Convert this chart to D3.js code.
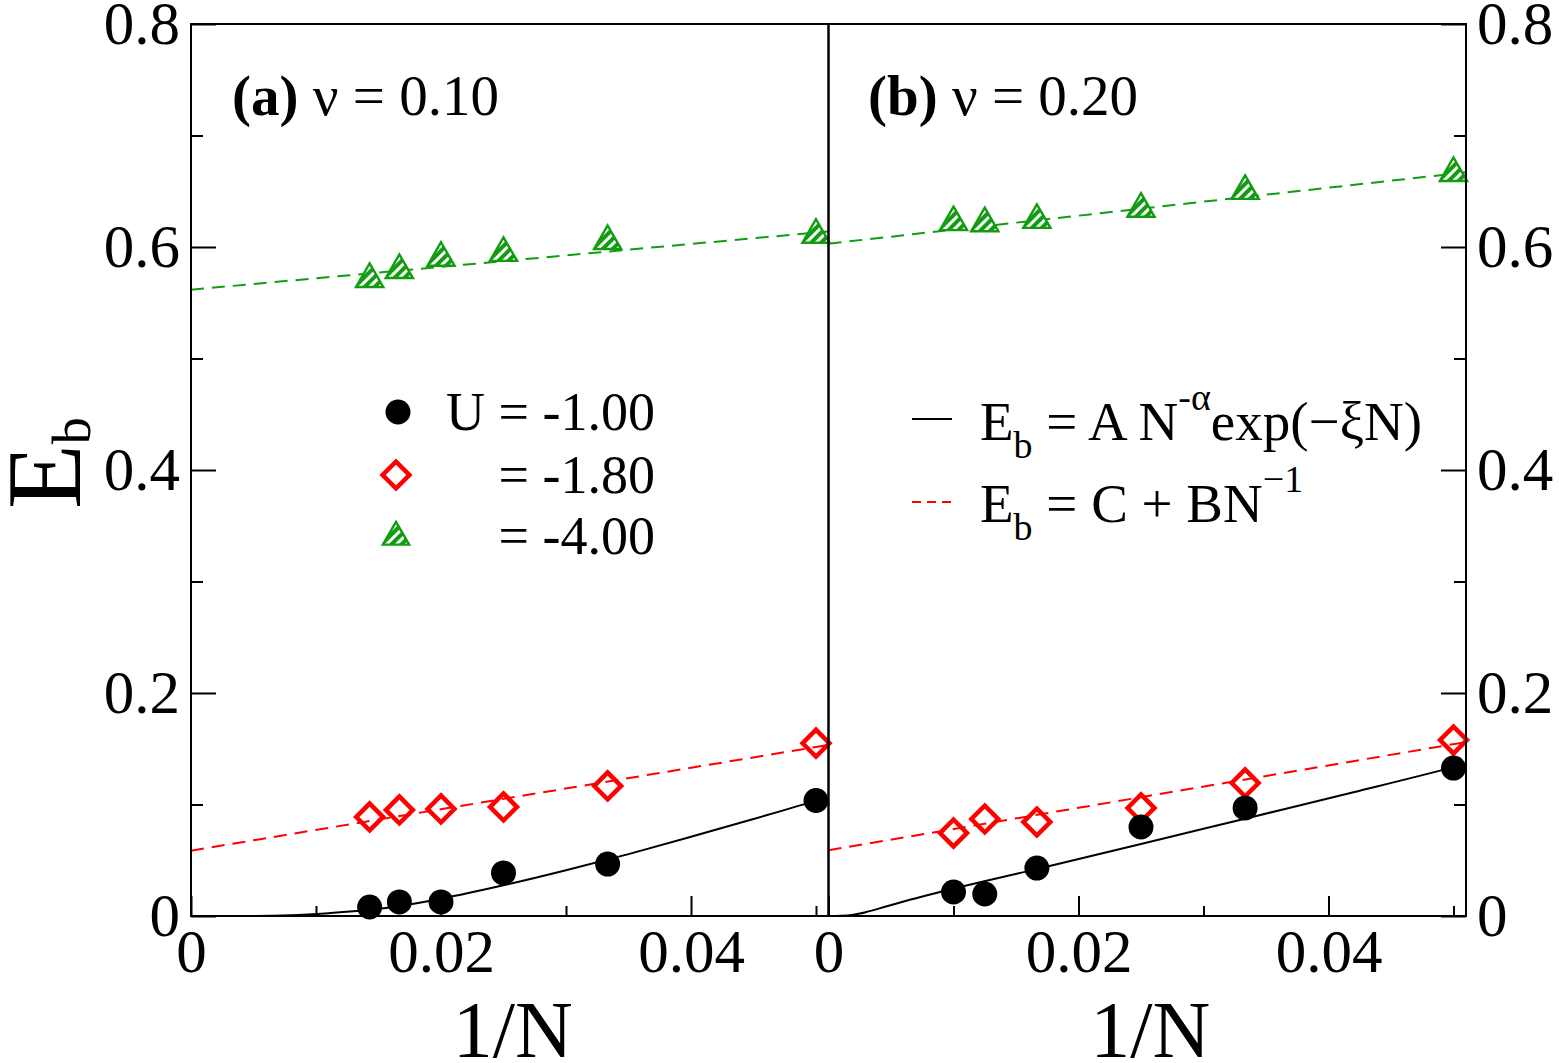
<!DOCTYPE html>
<html>
<head>
<meta charset="utf-8">
<script src="https://cdn.jsdelivr.net/npm/d3@7"></script>
<style>
  body { margin: 0; background: #fff; }
  svg { display: block; font-family: "Liberation Serif", "Times New Roman", serif; }
</style>
</head>
<body>
<svg width="1559" height="1063"></svg>
<script>
// ---- data ----
var xMajor = [0, 0.02, 0.04],
    xMinor = [0.01, 0.03, 0.05],
    yMajor = [0, 0.2, 0.4, 0.6, 0.8],
    yMinor = [0.1, 0.3, 0.5, 0.7];

// panel (a) nu = 0.10
var invNa = [0.01429, 0.01667, 0.02, 0.025, 0.03333, 0.05];
var u100a = [0.0081, 0.0126, 0.0126, 0.0386, 0.0466, 0.1036];
var u180a = [0.0888, 0.0951, 0.0960, 0.0978, 0.1166, 0.1550];
var u400a = [0.573, 0.581, 0.592, 0.5964, 0.607, 0.6126];
// fitted curves (a)
var fitExpA = [[0, 0], [0.005, 0], [0.008, 0.0006], [0.011, 0.0025], [0.0143, 0.0055],
               [0.017, 0.0095], [0.02, 0.0155], [0.025, 0.0275], [0.03, 0.041],
               [0.035, 0.0555], [0.04, 0.071], [0.045, 0.087], [0.05, 0.1035], [0.051, 0.107]];
var fitLinRedA = [[0, 0.0586], [0.051, 0.1534]];
var fitLinGreenA = [[0, 0.5617], [0.051, 0.614]];

// panel (b) nu = 0.20
var invNb = [0.01, 0.0125, 0.01667, 0.025, 0.03333, 0.05];
var u100b = [0.0215, 0.0197, 0.043, 0.0798, 0.0969, 0.1327];
var u180b = [0.0744, 0.087, 0.0843, 0.0969, 0.1193, 0.1578];
var u400b = [0.624, 0.623, 0.626, 0.636, 0.652, 0.668];
var fitExpB = [[0, 0], [0.001, 0.0002], [0.002, 0.0012], [0.003, 0.0035], [0.0046, 0.0085],
               [0.0065, 0.0145], [0.0089, 0.0215], [0.0168, 0.0425], [0.025, 0.0645],
               [0.0334, 0.0875], [0.042, 0.111], [0.05, 0.1335], [0.051, 0.1365]];
var fitLinRedB = [[0, 0.059], [0.051, 0.156]];
var fitLinGreenB = [[0, 0.603], [0.051, 0.667]];

var svg = d3.select("svg");
var top_ = 24, bottom = 916;

var y = d3.scaleLinear().domain([0, 0.8]).range([bottom, top_]);
var xa = d3.scaleLinear().domain([0, 0.051]).range([191, 828.5]);
var xb = d3.scaleLinear().domain([0, 0.051]).range([828.5, 1466]);

var green = "#119c11", red = "#ff0000";

// hatch pattern for the triangles
var defs = svg.append("defs");
var pat = defs.append("pattern")
    .attr("id", "hatch")
    .attr("patternUnits", "userSpaceOnUse")
    .attr("width", 7).attr("height", 7)
    .attr("patternTransform", "rotate(-45)");
pat.append("rect").attr("width", 7).attr("height", 7).attr("fill", "#fff");
pat.append("rect").attr("width", 7).attr("height", 4).attr("fill", green);

var fmtX = function(d) { return d === 0 ? "0" : d3.format(".2f")(d); };
var fmtY = function(d) { return d === 0 ? "0" : d3.format(".1f")(d); };

function styleAxis(g, size) {
    g.select(".domain").remove();
    g.selectAll("line").attr("stroke", "#000").attr("stroke-width", 2);
    g.selectAll("text")
        .attr("font-family", "Liberation Serif, Times New Roman, serif")
        .attr("font-size", size)
        .attr("fill", "#000");
}

function drawPanel(x, invN, s1, s2, s3, fitExp, fitRed, fitGreen, leftAxis) {
    var g = svg.append("g");

    // x axis, major + minor
    g.append("g")
        .attr("transform", "translate(0," + bottom + ")")
        .call(d3.axisBottom(x).tickValues(xMajor).tickFormat(fmtX)
              .tickSizeInner(-20).tickSizeOuter(0).tickPadding(13))
        .call(styleAxis, 61);
    g.append("g")
        .attr("transform", "translate(0," + bottom + ")")
        .call(d3.axisBottom(x).tickValues(xMinor).tickFormat("")
              .tickSizeInner(-10).tickSizeOuter(0))
        .call(styleAxis, 61);

    // y axis on outer side
    if (leftAxis) {
        var x0 = x.range()[0];
        g.append("g").attr("transform", "translate(" + x0 + ",0)")
            .call(d3.axisLeft(y).tickValues(yMajor).tickFormat(fmtY)
                  .tickSizeInner(-25).tickSizeOuter(0).tickPadding(11))
            .call(styleAxis, 61);
        g.append("g").attr("transform", "translate(" + x0 + ",0)")
            .call(d3.axisLeft(y).tickValues(yMinor).tickFormat("")
                  .tickSizeInner(-12).tickSizeOuter(0))
            .call(styleAxis, 61);
    } else {
        var x1 = x.range()[1];
        g.append("g").attr("transform", "translate(" + x1 + ",0)")
            .call(d3.axisRight(y).tickValues(yMajor).tickFormat(fmtY)
                  .tickSizeInner(-25).tickSizeOuter(0).tickPadding(11))
            .call(styleAxis, 61);
        g.append("g").attr("transform", "translate(" + x1 + ",0)")
            .call(d3.axisRight(y).tickValues(yMinor).tickFormat("")
                  .tickSizeInner(-12).tickSizeOuter(0))
            .call(styleAxis, 61);
    }

    // fit lines
    var line = d3.line().x(function(d) { return x(d[0]); }).y(function(d) { return y(d[1]); });
    g.append("path").datum(fitGreen).attr("d", line)
        .attr("fill", "none").attr("stroke", green).attr("stroke-width", 2).attr("stroke-dasharray", "13,8");
    g.append("path").datum(fitRed).attr("d", line)
        .attr("fill", "none").attr("stroke", red).attr("stroke-width", 2).attr("stroke-dasharray", "13,8");
    g.append("path").datum(fitExp).attr("d", line.curve(d3.curveMonotoneX))
        .attr("fill", "none").attr("stroke", "#000").attr("stroke-width", 2);

    // markers
    var tri = d3.symbol().type(d3.symbolTriangle).size(320);
    g.selectAll(".tri").data(invN.map(function(v, i) { return [v, s3[i]]; }))
        .enter().append("path")
        .attr("d", tri)
        .attr("transform", function(d) { return "translate(" + x(d[0]) + "," + (y(d[1]) + 2) + ")"; })
        .attr("fill", "url(#hatch)").attr("stroke", green).attr("stroke-width", 2.4);

    g.selectAll(".dia").data(invN.map(function(v, i) { return [v, s2[i]]; }))
        .enter().append("rect")
        .attr("x", -9.5).attr("y", -9.5).attr("width", 19).attr("height", 19)
        .attr("transform", function(d) { return "translate(" + x(d[0]) + "," + y(d[1]) + ") rotate(45)"; })
        .attr("fill", "none").attr("stroke", red).attr("stroke-width", 4.5);

    g.selectAll(".dot").data(invN.map(function(v, i) { return [v, s1[i]]; }))
        .enter().append("circle")
        .attr("cx", function(d) { return x(d[0]); })
        .attr("cy", function(d) { return y(d[1]); })
        .attr("r", 12.5).attr("fill", "#000");

    // frame
    g.append("rect")
        .attr("x", x.range()[0]).attr("y", top_)
        .attr("width", x.range()[1] - x.range()[0]).attr("height", bottom - top_)
        .attr("fill", "none").attr("stroke", "#000").attr("stroke-width", 2);

    // x label
    g.append("text")
        .attr("x", (x.range()[0] + x.range()[1]) / 2 + 3).attr("y", 1057)
        .attr("text-anchor", "middle").attr("font-size", 80).text("1/N");
}

drawPanel(xa, invNa, u100a, u180a, u400a, fitExpA, fitLinRedA, fitLinGreenA, true);
drawPanel(xb, invNb, u100b, u180b, u400b, fitExpB, fitLinRedB, fitLinGreenB, false);

// panel labels
function panelLabel(px, tag, nu) {
    var t = svg.append("text").attr("x", px).attr("y", 115).attr("font-size", 57);
    t.append("tspan").attr("font-weight", "bold").text(tag);
    t.append("tspan").text(" \u03bd = " + nu);
}
panelLabel(232, "(a)", "0.10");
panelLabel(868, "(b)", "0.20");

// y label
var yl = svg.append("text")
    .attr("transform", "translate(80,463) rotate(-90)")
    .attr("text-anchor", "middle").attr("font-size", 106);
yl.append("tspan").text("E");
yl.append("tspan").attr("font-size", 54).attr("dy", 10).text("b");

// legend (a): symbols
var legU = ["U = -1.00", "= -1.80", "= -4.00"];
var legY = [412, 475, 536];
svg.append("circle").attr("cx", 398).attr("cy", legY[0]).attr("r", 12.5).attr("fill", "#000");
svg.append("rect").attr("x", -9.5).attr("y", -9.5).attr("width", 19).attr("height", 19)
    .attr("transform", "translate(396," + legY[1] + ") rotate(45)")
    .attr("fill", "none").attr("stroke", red).attr("stroke-width", 4.5);
svg.append("path").attr("d", d3.symbol().type(d3.symbolTriangle).size(300))
    .attr("transform", "translate(396," + (legY[2] + 1) + ")")
    .attr("fill", "url(#hatch)").attr("stroke", green).attr("stroke-width", 2.4);
svg.selectAll(".legU").data(legU).enter().append("text")
    .attr("x", 655).attr("y", function(d, i) { return legY[i] + 18; })
    .attr("text-anchor", "end").attr("font-size", 54)
    .text(function(d) { return d; });

// legend (b): fit forms
svg.append("line").attr("x1", 912).attr("x2", 952).attr("y1", 419).attr("y2", 419)
    .attr("stroke", "#000").attr("stroke-width", 2);
svg.append("line").attr("x1", 912).attr("x2", 952).attr("y1", 502).attr("y2", 502)
    .attr("stroke", red).attr("stroke-width", 2).attr("stroke-dasharray", "9,6");

var l1 = svg.append("text").attr("x", 980).attr("y", 440).attr("font-size", 55);
l1.append("tspan").text("E");
l1.append("tspan").attr("font-size", 38).attr("dy", 18).text("b");
l1.append("tspan").attr("dy", -18).text(" = A N");
l1.append("tspan").attr("font-size", 38).attr("dy", -30).text("-\u03b1");
l1.append("tspan").attr("dy", 30).text("exp(\u2212\u03beN)");

var l2 = svg.append("text").attr("x", 980).attr("y", 522).attr("font-size", 55);
l2.append("tspan").text("E");
l2.append("tspan").attr("font-size", 38).attr("dy", 18).text("b");
l2.append("tspan").attr("dy", -18).text(" = C + BN");
l2.append("tspan").attr("font-size", 38).attr("dy", -30).text("\u22121");
</script>
</body>
</html>
